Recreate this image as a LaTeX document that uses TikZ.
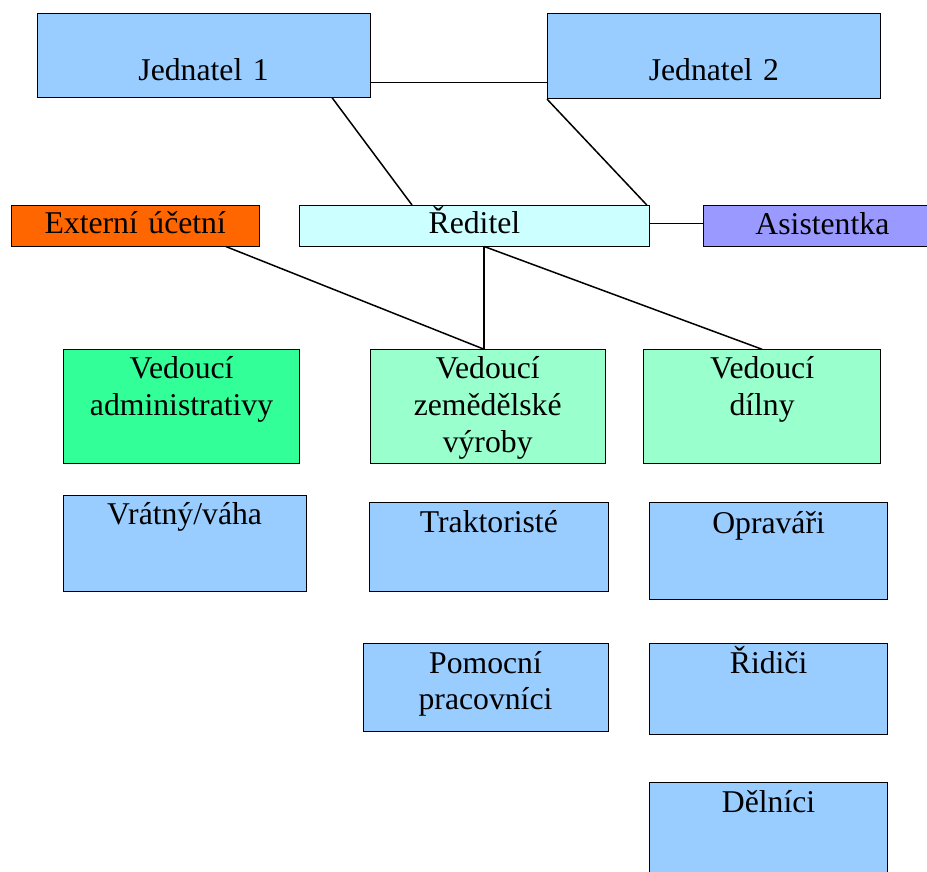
\documentclass[tikz,border=0pt]{standalone}
\usepackage{fontspec}
\setmainfont{Liberation Serif}
\usepackage{xcolor}
\usetikzlibrary{calc}
\definecolor{skyblue}{HTML}{99CCFF}
\definecolor{paleblue}{HTML}{CCFFFF}
\definecolor{orangebox}{HTML}{FF6600}
\definecolor{lilac}{HTML}{9999FF}
\definecolor{mint}{HTML}{33FF99}
\definecolor{palemint}{HTML}{99FFCC}

\begin{document}
\begin{tikzpicture}[
    x=1pt, y=-1pt,
    every node/.style={font=\fontsize{31.7}{36.7}\selectfont},
    box/.style={rectangle, draw=black, line width=0.8pt, inner sep=0pt, align=center, anchor=north west},
    dims/.style n args={3}{text width=#1pt, text height=#2pt, text depth=#3pt},
    link/.style={line width=1.5pt},
]
\clip (0,0) rectangle (927,872);
% top level
\node[box, fill=skyblue, dims={333}{66.7}{16.7}] (jed1) at (36.7,13.3) {Jednatel 1};
\node[box, fill=skyblue, dims={333}{66.7}{18.3}] (jed2) at (547,13.3) {Jednatel 2};
\node[box, fill=orangebox, dims={248.4}{28.3}{12.4}] (ext) at (10.6,205) {Externí účetní};
\node[box, fill=paleblue, dims={350}{28.3}{12.4}] (red) at (299,205) {Ředitel};
\node[box, fill=lilac, dims={238}{28.8}{11.9}] (asi) at (703,205) {Asistentka};
% heads of departments
\node[box, fill=mint, dims={235.7}{29}{85}] (adm) at (63.3,349.3) {Vedoucí\\administrativy};
\node[box, fill=palemint, dims={235.4}{29}{85}] (zem) at (369.6,349.3) {Vedoucí\\zemědělské\\výroby};
\node[box, fill=palemint, dims={236.6}{29}{85}] (dil) at (643.4,349.3) {Vedoucí\\dílny};
% staff
\node[box, fill=skyblue, dims={243}{29}{66.7}] (vra) at (62.7,495.3) {Vrátný/váha};
\node[box, fill=skyblue, dims={238.5}{29.4}{59.3}] (tra) at (369.2,502.3) {Traktoristé};
\node[box, fill=skyblue, dims={245.2}{29.4}{58.3}] (pom) at (362.5,643.3) {Pomocní\\pracovníci};
\node[box, fill=skyblue, dims={238.4}{30.4}{66.3}] (opr) at (649,502.3) {Opraváři};
\node[box, fill=skyblue, dims={238.4}{30}{61}] (rid) at (649,643.3) {Řidiči};
\node[box, fill=skyblue, dims={238.4}{30}{80}] (del) at (649,781.7) {Dělníci};
% connectors
\coordinate (zemtop) at ($(zem.north)+(-3.5,0)$);
\coordinate (jedlink) at ($(jed1.south east)+(0,-15)$);
\coordinate (asilink) at ($(red.east)+(0,-2.5)$);
\draw[link] (jedlink) -- (jedlink -| jed2.west);
\draw[link] ($(jed1.south east)+(-38.6,0)$) -- ($(red.north west)+(113,0)$);
\draw[link] (jed2.south west) -- ($(red.north east)+(-3,0)$);
\draw[link] (asilink) -- (asilink -| asi.west);
\draw[link] ($(ext.south east)+(-34,0)$) -- (zemtop);
\draw[link] (zemtop |- red.south) -- (zemtop);
\draw[link] (zemtop |- red.south) -- (dil.north);
\end{tikzpicture}
\end{document}
